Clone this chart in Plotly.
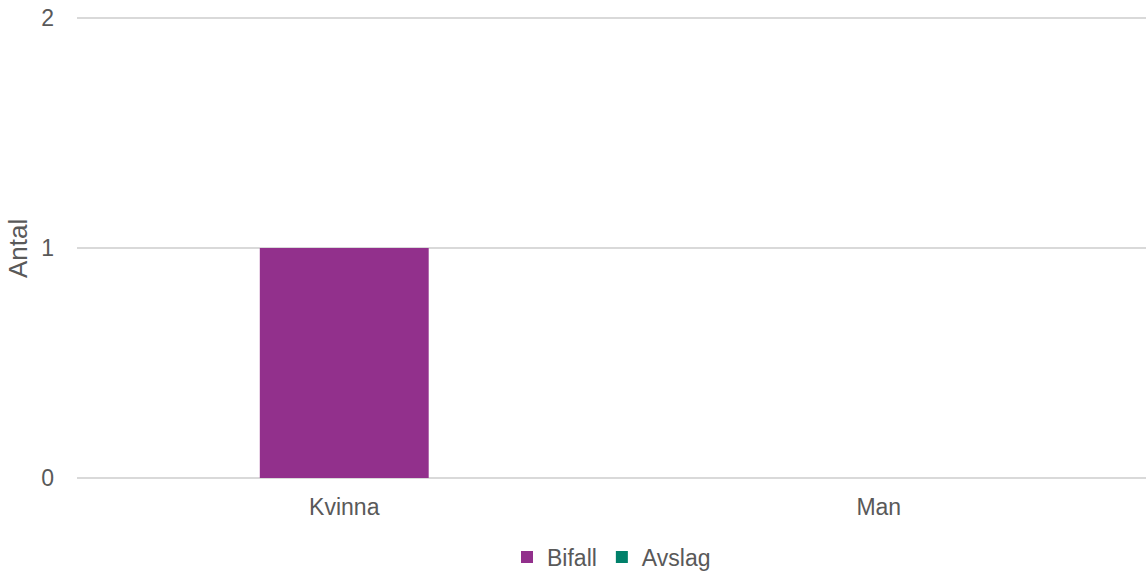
import plotly.graph_objects as go

categories = ["Kvinna", "Man"]
bifall = [1, 0]
avslag = [0, 0]

fig = go.Figure()
fig.add_trace(go.Bar(x=categories, y=bifall, name="Bifall",
                     marker=dict(color="#92308C", line=dict(width=0)), width=0.316))
fig.add_trace(go.Bar(x=categories, y=avslag, name="Avslag",
                     marker=dict(color="#00806A", line=dict(width=0)), width=0.316))

fig.update_layout(
    width=1146, height=571,
    margin=dict(l=77, r=0, t=16, b=91, autoexpand=False),
    barmode="overlay",
    plot_bgcolor="white", paper_bgcolor="white",
    font=dict(family="Liberation Sans, Arial, sans-serif", color="#595959", size=23),
    showlegend=True,
    legend=dict(orientation="h", x=0.5, xanchor="center", yref="container",
                y=0.0245, yanchor="middle", font=dict(size=23), itemwidth=30,
                tracegroupgap=0),
)
fig.update_xaxes(showgrid=False, showline=False, ticks="", tickfont=dict(size=23),
                 ticklabelstandoff=11, automargin=False)
fig.update_yaxes(range=[-0.0087, 2.0087], tickvals=[0, 1, 2], showgrid=True,
                 gridcolor="#d9d9d9", gridwidth=2, zeroline=False, showline=False,
                 ticks="", tickfont=dict(size=23), ticklabelstandoff=22,
                 automargin=False)
fig.add_annotation(text="Antal", xref="paper", yref="paper", x=-0.0552, y=0.5,
                   xanchor="center", yanchor="middle", textangle=-90,
                   showarrow=False, font=dict(size=26, color="#595959"))

# drop the default body margin so the figure sits at 0,0
fig.write_html("out.html", config={"displayModeBar": False},
               post_script="document.body.style.margin='0';")
